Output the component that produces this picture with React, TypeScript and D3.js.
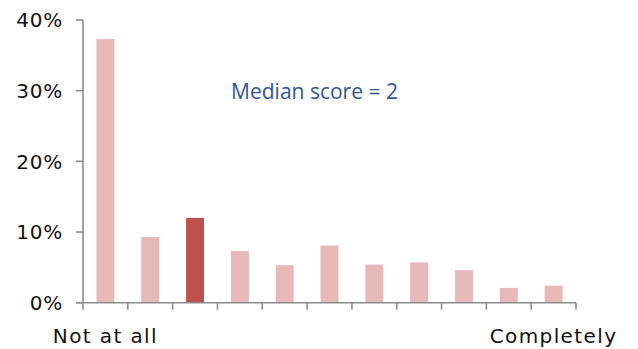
import React from 'react'
import * as d3 from 'd3'

const scores = ['0', '1', '2', '3', '4', '5', '6', '7', '8', '9', '10']
const shares = [0.373, 0.093, 0.12, 0.073, 0.053, 0.081, 0.054, 0.057, 0.046, 0.021, 0.024]
const yTicks = [0, 0.1, 0.2, 0.3, 0.4]
const medianScore = '2'
const endLabels = ['Not at all', 'Completely']

const W = 638
const H = 349
const margin = { top: 20, right: 62, bottom: 46, left: 83 }
const axisColor = '#8c8c8c'
const labelFont = '"DejaVu Sans", sans-serif'

const App = () => {
  const x = d3
    .scaleBand()
    .domain(scores)
    .range([margin.left, W - margin.right])
    .paddingInner(0.6)
    .paddingOuter(0.3)
  const y = d3
    .scaleLinear()
    .domain([0, 0.4])
    .range([H - margin.bottom - 0.3, margin.top])
  const x0 = margin.left
  const x1 = W - margin.right
  const base = y(0)
  const tickXs = d3.range(scores.length + 1).map((i) => x0 + i * ((x1 - x0) / scores.length))

  return (
    <svg width={W} height={H} style={{ position: 'absolute', left: 0, top: 0 }}>
      {shares.map((v, i) => (
        <rect
          key={scores[i]}
          x={x(scores[i])}
          y={y(v)}
          width={x.bandwidth()}
          height={base - y(v)}
          fill={scores[i] === medianScore ? '#c0504d' : '#e6b8b7'}
        />
      ))}
      <g stroke={axisColor} strokeWidth={1.6} fill="none">
        <line x1={x0} x2={x0} y1={y(0.4)} y2={base} />
        <line x1={x0 - 7} x2={x1} y1={base} y2={base} />
        {yTicks.map((t) => (
          <line key={t} x1={x0 - 7} x2={x0} y1={y(t)} y2={y(t)} />
        ))}
        {tickXs.map((tx, i) => (
          <line key={i} x1={tx} x2={tx} y1={base} y2={base + 7} />
        ))}
      </g>
      <g fontFamily={labelFont} fontSize={20} fill="#111" textAnchor="end" letterSpacing={0.8}>
        {yTicks.map((t) => (
          <text key={t} x={63} y={y(t)} dy="0.36em">
            {d3.format('.0%')(t)}
          </text>
        ))}
      </g>
      <g fontFamily={labelFont} fontSize={20} fill="#111" textAnchor="middle" letterSpacing={1.4}>
        <text x={x(scores[0])! + x.bandwidth() / 2} y={343}>
          {endLabels[0]}
        </text>
        <text x={x(scores[scores.length - 1])! + x.bandwidth() / 2} y={343}>
          {endLabels[1]}
        </text>
      </g>
      <text
        x={314.5}
        y={99}
        textAnchor="middle"
        fontFamily='"Open Sans", sans-serif'
        fontSize={21}
        fill="#2f5597"
      >
        {`Median score = ${medianScore}`}
      </text>
    </svg>
  )
}

export default App
